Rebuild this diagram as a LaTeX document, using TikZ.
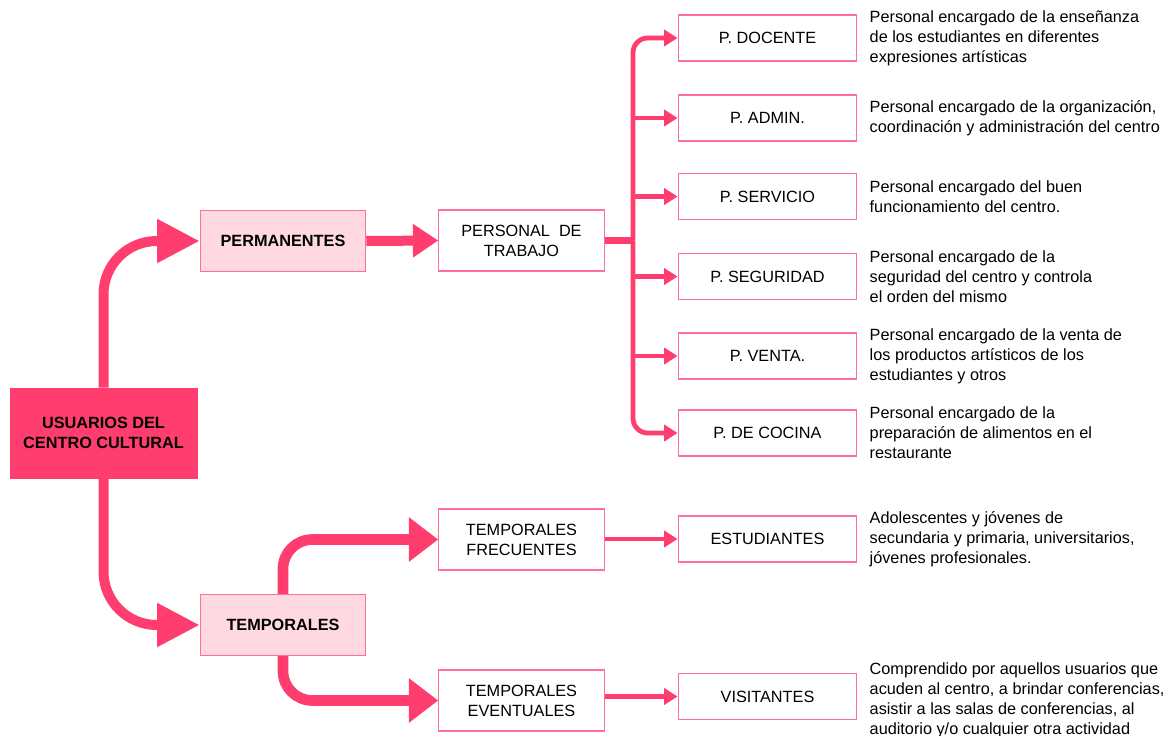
\documentclass[tikz,border=0pt]{standalone}
\usepackage{fontspec}
\setmainfont{Liberation Sans}
\usepackage{tikz}
\usetikzlibrary{arrows.meta,positioning}
\definecolor{rosa}{RGB}{255,61,110}
\definecolor{rosaclaro}{RGB}{255,217,226}
\definecolor{rosaborde}{RGB}{255,112,150}

\begin{document}
\begin{tikzpicture}[x=0.75pt,y=-0.75pt,every node/.style={font=\fontsize{12.2}{15}\selectfont},
  bx/.style={draw=rosaborde,line width=0.9pt,fill=white,align=center,minimum width=134pt,minimum height=34.5pt},
  mid/.style={bx,minimum width=124pt,minimum height=45.75pt},
  cat/.style={mid,fill=rosaclaro,font=\fontsize{12.2}{15}\selectfont\bfseries},
  txt/.style={align=left,inner sep=0pt,anchor=west},
  big/.style={draw=rosa,line width=7.5pt,rounded corners=40pt,-{Triangle[length=32pt,width=31pt]}},
  med/.style={draw=rosa,line width=7.5pt,-{Triangle[length=19pt,width=24pt]}},
  tmp/.style={draw=rosa,line width=8pt,rounded corners=22pt,-{Triangle[length=22pt,width=32pt]}},
  sm/.style={draw=rosa,line width=3.6pt,rounded corners=11pt,-{Triangle[length=10pt,width=12pt]}}]
\useasboundingbox (0,0) rectangle (1172,736);
% raiz
\node[fill=rosa,draw=rosa,align=center,minimum width=140pt,minimum height=67.5pt,font=\fontsize{12.2}{15}\selectfont\bfseries] (root) at (103.5,433) {USUARIOS DEL\\CENTRO CULTURAL};
\node[cat] (perm) at (283,241) {PERMANENTES};
\node[cat] (temp) at (283,625) {TEMPORALES};
\node[mid] (pers) at (521.5,240.5) {PERSONAL\ \ DE\\TRABAJO};
\node[mid] (tfre) at (521.5,539.5) {TEMPORALES\\FRECUENTES};
\node[mid] (teve) at (521.5,700.5) {TEMPORALES\\EVENTUALES};
% personal
\node[bx] (doc) at (767.5,38) {P. DOCENTE};
\node[bx] (adm) at (767.5,118) {P. ADMIN.};
\node[bx] (ser) at (767.5,196.5) {P. SERVICIO};
\node[bx] (seg) at (767.5,276.5) {P. SEGURIDAD};
\node[bx] (ven) at (767.5,356) {P. VENTA.};
\node[bx] (coc) at (767.5,433) {P. DE COCINA};
\node[bx] (est) at (767.5,539) {ESTUDIANTES};
\node[bx] (vis) at (767.5,696.5) {VISITANTES};
% descripciones
\node[txt,right=9pt of doc] (ddoc) {Personal encargado de la enseñanza\\de los estudiantes en diferentes\\expresiones artísticas};
\node[txt,right=9pt of adm] (dadm) {Personal encargado de la organización,\\coordinación y administración del centro};
\node[txt,right=9pt of ser] (dser) {Personal encargado del buen\\funcionamiento del centro.};
\node[txt,right=9pt of seg] (dseg) {Personal encargado de la\\seguridad del centro y controla\\el orden del mismo};
\node[txt,right=9pt of ven] (dven) {Personal encargado de la venta de\\los productos artísticos de los\\estudiantes y otros};
\node[txt,right=9pt of coc] (dcoc) {Personal encargado de la\\preparación de alimentos en el\\restaurante};
\node[txt,right=9pt of est] (dest) {Adolescentes y jóvenes de\\secundaria y primaria, universitarios,\\jóvenes profesionales.};
\node[txt,right=9pt of vis,yshift=-3pt] (dvis) {Comprendido por aquellos usuarios que\\acuden al centro, a brindar conferencias,\\asistir a las salas de conferencias, al\\auditorio y/o cualquier otra actividad};
\coordinate (tr) at (633,240.5);
% flechas
\draw[big] (root.north) |- (perm.west);
\draw[big] (root.south) |- (temp.west);
\draw[med] (perm.east) -- (pers.west);
\draw[draw=rosa,line width=5.25pt] (pers.east) -- (tr);
\draw[sm] (tr) |- (doc.west);
\draw[sm] (tr) |- (coc.west);
\foreach \n in {adm,ser,seg,ven}
  \draw[sm] (tr |- \n.west) -- (\n.west);
\draw[tmp] (temp.north) |- (tfre.west);
\draw[tmp] (temp.south) |- (teve.west);
\draw[sm] (tfre.east |- est.west) -- (est.west);
\draw[sm] (teve.east |- vis.west) -- (vis.west);
\end{tikzpicture}
\end{document}
